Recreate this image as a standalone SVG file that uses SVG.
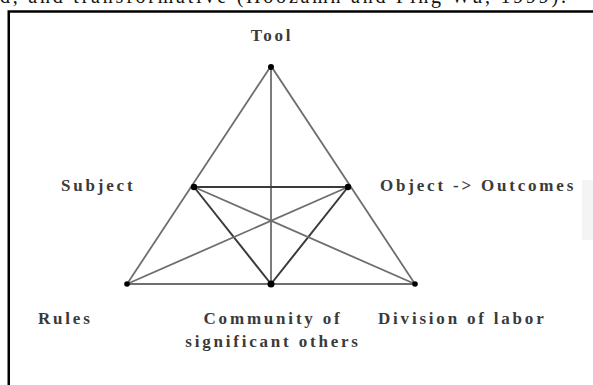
<svg xmlns="http://www.w3.org/2000/svg" width="593" height="385" viewBox="0 0 593 385">
  <style>
    .lbl { font-family: "Liberation Serif", "Times New Roman", serif; font-size: 17px; font-weight: bold; fill: #3a3a3a; letter-spacing: 2.8px; }
    .edge { stroke: #6e6e6e; stroke-width: 1.8; fill: none; }
    .inner { stroke: #3a3a3a; stroke-width: 2; fill: none; }
    .dot { fill: #000; }
  </style>
  <rect width="593" height="385" fill="#fff"/>
  <text x="0" y="2.5" font-family="Liberation Serif, serif" font-size="20" fill="#111" textLength="566" lengthAdjust="spacing">d, and transformative (Hoozamn and Ping Wu, 1999).</text>
  <rect x="582" y="180" width="11" height="60" fill="#f4f4f4"/>
  <path d="M8.75 385 V11.5 H593" stroke="#000" stroke-width="2.5" fill="none"/>
  <g id="connectors">
    <polygon class="edge" points="271,66 127,284 415,284"/>
    <line class="edge" x1="271" y1="66" x2="271" y2="284" stroke="#8a8a8a"/>
    <line class="inner" x1="194" y1="187" x2="348" y2="187"/>
    <line class="inner" x1="194" y1="187" x2="271" y2="284"/>
    <line class="inner" x1="348" y1="187" x2="271" y2="284"/>
    <line class="edge" x1="194" y1="187" x2="415" y2="284"/>
    <line class="edge" x1="348" y1="187" x2="127" y2="284"/>
  </g>
  <g id="tool">
    <circle class="dot" cx="271" cy="67" r="3"/>
    <text class="lbl" x="272" y="41" text-anchor="middle">Tool</text>
  </g>
  <g id="subject">
    <circle class="dot" cx="194" cy="187" r="3.2"/>
    <text class="lbl" x="61" y="191">Subject</text>
  </g>
  <g id="object">
    <circle class="dot" cx="348" cy="187" r="3.2"/>
    <text class="lbl" x="380" y="191">Object -&gt; Outcomes</text>
  </g>
  <g id="rules">
    <circle class="dot" cx="127" cy="284" r="2.8"/>
    <text class="lbl" x="38" y="324">Rules</text>
  </g>
  <g id="community">
    <circle class="dot" cx="271" cy="284" r="3.5"/>
    <text class="lbl" x="273" y="324" text-anchor="middle">Community of</text>
    <text class="lbl" x="273" y="347" text-anchor="middle">significant others</text>
  </g>
  <g id="division">
    <circle class="dot" cx="415" cy="284" r="2.8"/>
    <text class="lbl" x="378" y="324">Division of labor</text>
  </g>
</svg>
